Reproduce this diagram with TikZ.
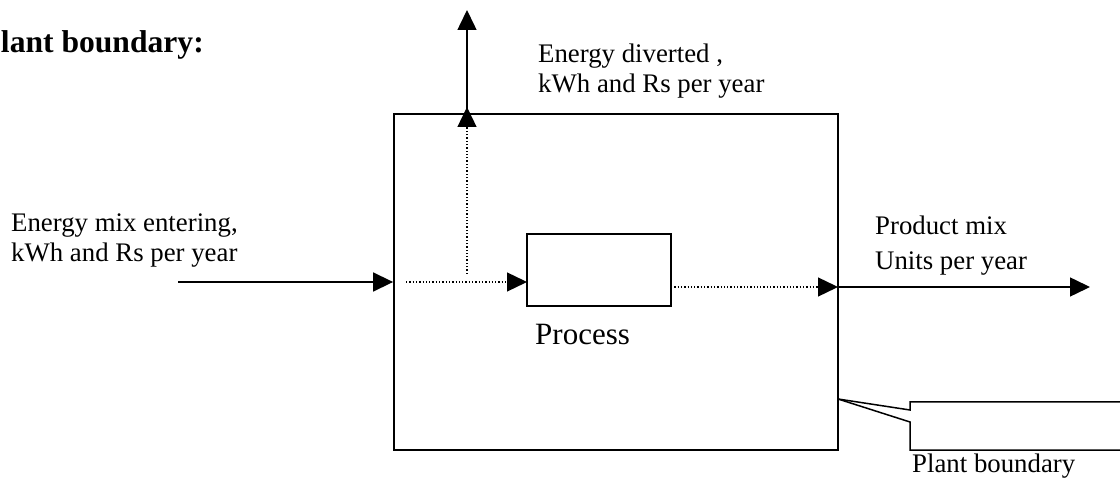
\documentclass[tikz,border=0pt]{standalone}
\usepackage{fontspec}
\setmainfont{Liberation Serif}
\usetikzlibrary{arrows.meta,calc}
\begin{document}
\begin{tikzpicture}[x=1pt,y=-1pt,
  box/.style={draw,line width=1.8pt,inner sep=0pt,rectangle},
  lbl/.style={inner sep=0pt,align=left,font=\fontsize{26.8}{30}\selectfont},
  flow/.style={line width=1.5pt,-{Triangle[length=20pt,width=19pt]}},
  dotflow/.style={line width=1.3pt,dash pattern=on 1.3pt off 2pt,-{Triangle[length=20pt,width=19pt]}},
  edge/.style={line width=1.5pt}]
\useasboundingbox (0,0) rectangle (1120,486);
\clip (0,0) rectangle (1120,486);
% boxes
\node[box,minimum width=444pt,minimum height=336pt] (plant) at (616,282) {};
\node[box,minimum width=144pt,minimum height=72pt] (proc) at (599,270) {};
% coordinates
\coordinate (inS) at (178,282);
\coordinate (dotS) at (406,282);
\coordinate (procIn) at (527,282);
\coordinate (branch) at (467,274);
\coordinate (divTip) at (467,107);
\coordinate (divBase) at (467,114);
\coordinate (divEnd) at (467,10);
\coordinate (outS) at (671,287);
\coordinate (outB) at (838,287);
\coordinate (outE) at (1090,287);
\coordinate (callP) at (838,399);
% connectors
\draw[flow] (inS) -- (plant.west);
\draw[dotflow] (dotS) -- (procIn);
\draw[dotflow] (branch) -- (divTip);
\draw[flow] (divBase) -- (divEnd);
\draw[dotflow] (outS) -- (outB);
\draw[flow] (outB) -- (outE);
% callout
\draw[edge,line join=miter] (callP) -- (910,410) -- (910,402) -- (1130,402);
\draw[edge,line join=miter] (callP) -- (910,422) -- (910,450) -- (1130,450);
% labels
\node[lbl,anchor=base east,font=\fontsize{31.6}{34}\selectfont\bfseries] (title) at (204,53) {Plant boundary:};
\node[lbl,anchor=base west] (inL) at (11,262) {Energy mix entering,\\kWh and Rs per year};
\node[lbl,anchor=base west] (divL) at (538,93) {Energy diverted ,\\kWh and Rs per year};
\node[lbl,anchor=base west] (outL) at (875,270) {Product mix\\[5pt]Units per year};
\node[lbl,anchor=base west,font=\fontsize{31}{34}\selectfont] (procL) at (535,345) {Process};
\node[lbl,anchor=base west] (pbL) at (912,472) {Plant boundary};
\end{tikzpicture}
\end{document}
